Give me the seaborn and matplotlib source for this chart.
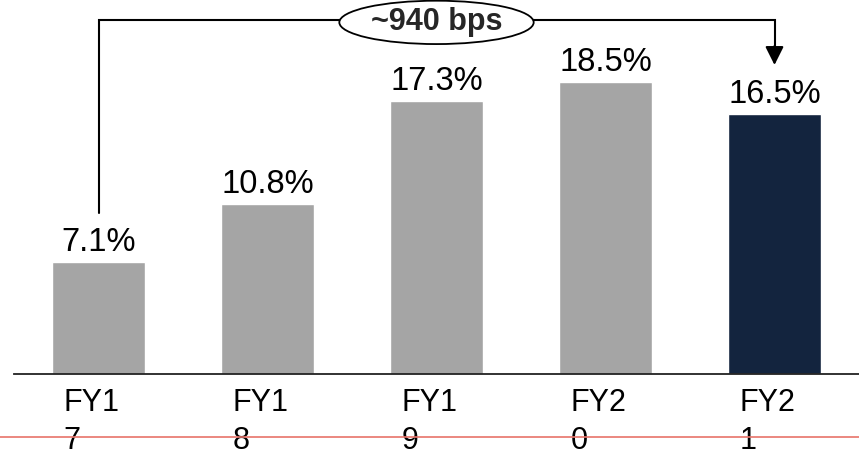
import matplotlib
matplotlib.use("Agg")
import matplotlib.pyplot as plt
import matplotlib.transforms as mtransforms
from matplotlib.patches import Ellipse
import numpy as np
import pandas as pd
import seaborn as sns

# data
years = ["FY17", "FY18", "FY19", "FY20", "FY21"]
tick_labels = ["FY1\n7", "FY1\n8", "FY1\n9", "FY2\n0", "FY2\n1"]
margin = [7.1, 10.8, 17.3, 18.5, 16.5]
bar_colors = ["#A5A5A5", "#A5A5A5", "#A5A5A5", "#A5A5A5", "#13243E"]
change_label = "~940 bps"

sns.set_theme(style="white")
plt.rcParams['font.family'] = ['Liberation Sans', 'DejaVu Sans']

df = pd.DataFrame({"year": years, "margin": margin})

fig = plt.figure(figsize=(8.59, 4.55), dpi=100)
ax = fig.add_axes([14 / 859, 81 / 455, 845 / 859, 374 / 455])

sns.barplot(data=df, x="year", y="margin", hue="year", palette=bar_colors,
            width=0.556, legend=False, saturation=1, ax=ax)

ax.set_xlim(-0.5, 4.5)
ax.set_ylim(0, 23.72)
ax.set_xlabel("")
ax.set_ylabel("")
ax.set_yticks([])
for s in ["top", "right", "left"]:
    ax.spines[s].set_visible(False)
ax.spines["bottom"].set_color("#222222")
ax.spines["bottom"].set_linewidth(1.3)

ax.set_xticks(range(len(years)))
ax.set_xticklabels(tick_labels, fontsize=22, color="black", linespacing=1.36,
                   multialignment="left")
ax.tick_params(axis="x", length=0, pad=10)
shift = mtransforms.ScaledTranslation(-7 / 100, 0, fig.dpi_scale_trans)
for lab in ax.get_xticklabels():
    lab.set_transform(lab.get_transform() + shift)

# value labels
for i, v in enumerate(margin):
    ax.annotate(f"{v}%", (i, v), xytext=(0, 3), textcoords="offset points",
                ha="center", va="bottom", fontsize=23.5, color="black")

# connector from first to last bar
gap = 3.1
top_y = 22.45
ax.plot([0, 0, 4, 4], [margin[0] + gap, top_y, top_y, margin[-1] + gap + 1.0],
        color="black", lw=1.5, solid_joinstyle="miter", clip_on=False)
ax.annotate("", xy=(4, margin[-1] + gap), xytext=(4, margin[-1] + gap + 1.2),
            arrowprops=dict(arrowstyle="-|>", color="black", lw=1.5,
                            mutation_scale=28, shrinkA=0, shrinkB=0),
            annotation_clip=False)
ell = Ellipse((2.0, 22.3), 1.15, 2.75, facecolor="white", edgecolor="black",
              lw=1.3, zorder=5, clip_on=False)
ax.add_patch(ell)
ax.text(2.0, 22.3, change_label, ha="center", va="center", fontsize=22,
        fontweight="bold", zorder=6)

# thin red guide line at the bottom
fig.add_artist(plt.Line2D([0, 1], [18 / 455, 18 / 455], color="#E8736A", lw=1.2))

fig.savefig("out.png", dpi=100)
